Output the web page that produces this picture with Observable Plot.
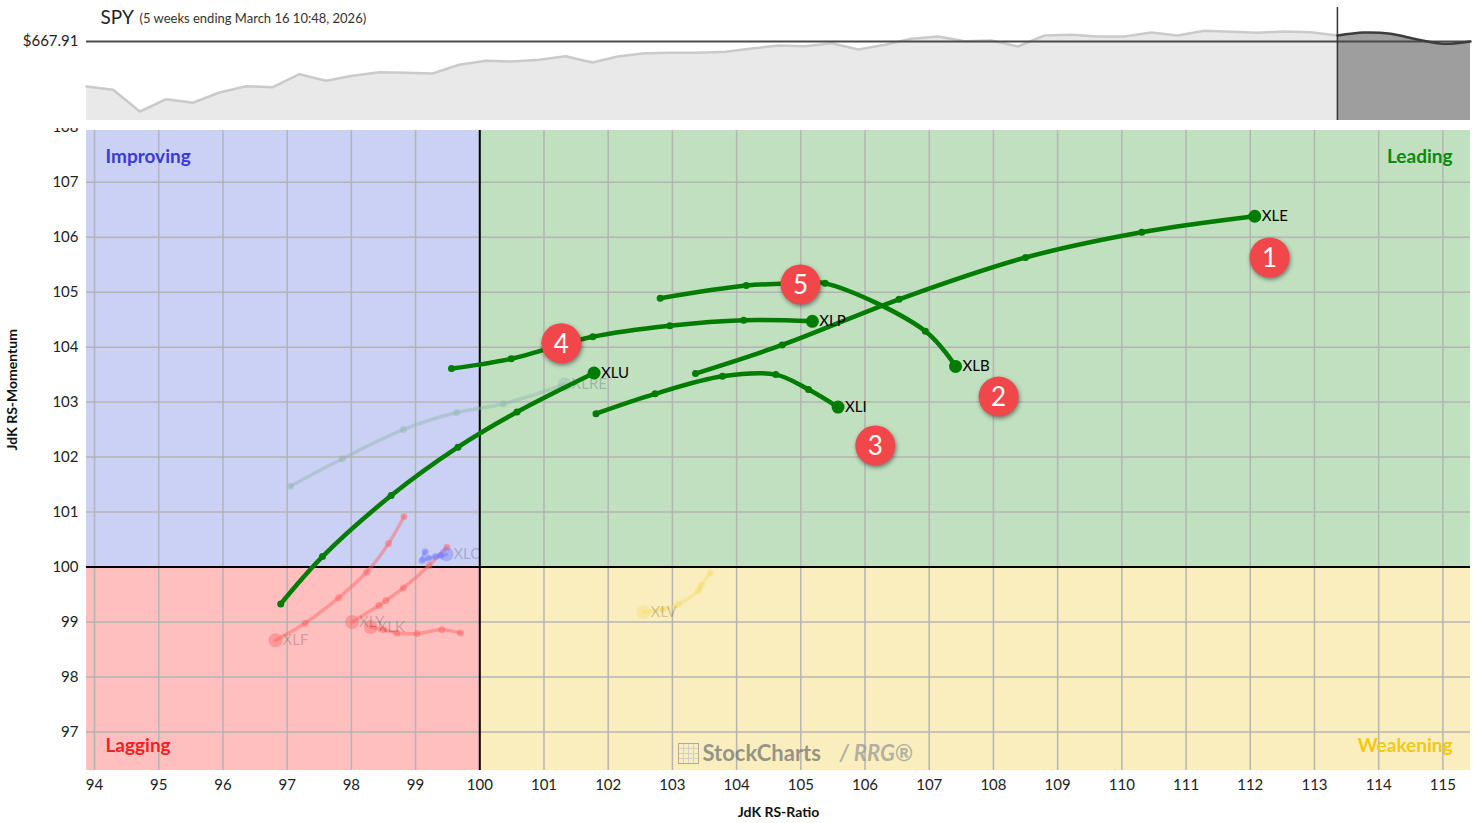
<!DOCTYPE html>
<html><head><meta charset="utf-8">
<script src="https://cdn.jsdelivr.net/npm/d3@7"></script>
<script src="https://cdn.jsdelivr.net/npm/@observablehq/plot@0.6"></script>
<style>
body{margin:0;background:#fff;font-family:Lato,"Open Sans",sans-serif;}
#wrap{position:relative;width:1478px;height:823px;overflow:hidden}
#wrap svg{display:block}
.badge circle{filter:drop-shadow(1px 2px 2px rgba(0,0,0,0.45));}
#icon{position:absolute;left:678px;top:743px;width:21px;height:21px;border:1.5px solid #9a9a9a;box-sizing:border-box;opacity:.8;
 background:repeating-linear-gradient(90deg,transparent 0 4px,#c8c8c8 4px 5px),repeating-linear-gradient(0deg,transparent 0 4px,#c8c8c8 4px 5px);}
</style></head><body><div id="wrap"><div id="icon"></div></div>
<script>
// ---- SPY weekly closes (1 year), last 5 weeks highlighted ----
const spyPrice = [555.4, 547.2, 492.9, 523.7, 514.7, 540.4, 556.2, 553.7, 586.2, 569.7, 582.2, 591.2, 589.7, 587.9, 609.7, 619.7, 617.9, 622.2, 631.2, 615.4, 631.2, 638.7, 639.7, 639.7, 642.2, 650.4, 657.9, 656.2, 663.7, 647.9, 659.7, 674.7, 680.4, 668.7, 670.4, 655.4, 682.9, 684.7, 680.4, 680.4, 690.4, 682.9, 694.7, 692.2, 689.7, 692.9, 691.2, 682.9, 690.4, 687.2, 672.9, 662.2, 667.91];
const tailWeeks = 5;
const spyTitle = "SPY";
const spySubtitle = "(5 weeks ending March 16 10:48, 2026)";

// ---- RRG tails (oldest -> latest) ----
const highlighted = ["XLU", "XLP", "XLI", "XLB", "XLE"];
const xleRatio = [103.36, 104.71, 106.53, 108.50, 110.31, 112.07];
const xleMomentum = [103.52, 104.04, 104.87, 105.63, 106.09, 106.38];
const xlbRatio = [102.81, 104.15, 104.87, 105.38, 106.94, 107.41];
const xlbMomentum = [104.89, 105.12, 105.16, 105.16, 104.29, 103.65];
const xliRatio = [101.81, 102.73, 103.78, 104.61, 105.12, 105.58];
const xliMomentum = [102.79, 103.15, 103.47, 103.50, 103.23, 102.91];
const xlpRatio = [99.56, 100.49, 101.76, 102.96, 104.11, 105.18];
const xlpMomentum = [103.61, 103.79, 104.19, 104.39, 104.49, 104.47];
const xluRatio = [96.90, 97.55, 98.62, 99.66, 100.58, 101.78];
const xluMomentum = [99.33, 100.19, 101.30, 102.18, 102.82, 103.53];

const background = ["XLRE", "XLF", "XLY", "XLK", "XLC", "XLV"];
const xlreRatio = [97.05, 97.86, 98.81, 99.64, 100.37, 101.32];
const xlreMomentum = [101.47, 101.97, 102.50, 102.81, 102.97, 103.32];
const xlfRatio = [98.82, 98.58, 98.24, 97.80, 97.28, 96.82];
const xlfMomentum = [100.92, 100.43, 99.91, 99.44, 98.98, 98.67];
const xlyRatio = [99.49, 99.21, 98.81, 98.54, 98.43, 98.01];
const xlyMomentum = [100.36, 100.03, 99.62, 99.39, 99.30, 99.00];
const xlkRatio = [99.70, 99.41, 99.02, 98.71, 98.50, 98.30];
const xlkMomentum = [98.80, 98.86, 98.79, 98.80, 98.86, 98.91];
const xlcRatio = [99.15, 99.10, 99.20, 99.31, 99.39, 99.48];
const xlcMomentum = [100.28, 100.12, 100.16, 100.19, 100.21, 100.23];
const xlvRatio = [103.59, 103.45, 103.41, 103.09, 102.85, 102.55];
const xlvMomentum = [99.89, 99.67, 99.58, 99.32, 99.23, 99.18];

// ---- annotations (numbered badges) ----
const badgeNumber = ["1", "2", "3", "4", "5"];
const badgeRatio = [112.30, 108.08, 106.16, 101.27, 104.995];
const badgeMomentum = [105.63, 103.10, 102.21, 104.07, 105.14];

// ---- axes ----
const ratioTicks = [94,95,96,97,98,99,100,101,102,103,104,105,106,107,108,109,110,111,112,113,114,115];
const momentumTicks = [97,98,99,100,101,102,103,104,105,106,107,108];
const ratioDomain = [93.875, 115.43];
const momentumDomain = [96.3, 107.94];
const quadrantNames = ["Improving", "Leading", "Lagging", "Weakening"];

// ---------- build ----------
const F = "Lato, 'Open Sans', sans-serif";
const wrap = document.getElementById("wrap");

const spyRows = spyPrice.map((p, i) => ({i, p}));
const splitIdx = spyPrice.length - 1 - tailWeeks;
const hist = spyRows.slice(0, splitIdx + 1);
const recent = spyRows.slice(splitIdx);
const lastPrice = spyPrice[spyPrice.length - 1];
const stripDomain = [470.4, 770.4];

const strip = Plot.plot({
  width: 1478, height: 128, marginTop: 0, marginBottom: 8, marginLeft: 86, marginRight: 8,
  x: {domain: [0, spyPrice.length - 1], axis: null},
  y: {domain: stripDomain, axis: null},
  style: {fontFamily: F, overflow: "visible"},
  marks: [
    Plot.areaY(hist, {x: "i", y1: stripDomain[0], y2: "p", fill: "#e9e9e9"}),
    Plot.areaY(recent, {x: "i", y1: stripDomain[0], y2: "p", fill: "#9e9e9e", curve: "catmull-rom"}),
    Plot.line(hist, {x: "i", y: "p", stroke: "#cacaca", strokeWidth: 2.5}),
    Plot.ruleY([lastPrice], {stroke: "#4a4a4a", strokeWidth: 2}),
    Plot.line(recent, {x: "i", y: "p", stroke: "#3c3c3c", strokeWidth: 2.5, curve: "catmull-rom"}),
    Plot.ruleX([splitIdx], {stroke: "#333", strokeWidth: 1.5, insetTop: 7}),
    Plot.text([lastPrice], {y: d => d, frameAnchor: "left", dx: -8, textAnchor: "end", text: d => "$" + d.toFixed(2), fontSize: 15, fill: "#222"}),
    Plot.text([spyTitle], {frameAnchor: "top-left", dx: 14, dy: 17, lineAnchor: "middle", textAnchor: "start", fontSize: 19, fill: "#222"}),
    Plot.text([spySubtitle], {frameAnchor: "top-left", dx: 53, dy: 18, lineAnchor: "middle", textAnchor: "start", fontSize: 13, fill: "#333"})
  ]
});
wrap.appendChild(strip);

const series = {
  XLE: [xleRatio, xleMomentum], XLB: [xlbRatio, xlbMomentum], XLI: [xliRatio, xliMomentum],
  XLP: [xlpRatio, xlpMomentum], XLU: [xluRatio, xluMomentum],
  XLRE: [xlreRatio, xlreMomentum], XLF: [xlfRatio, xlfMomentum], XLY: [xlyRatio, xlyMomentum],
  XLK: [xlkRatio, xlkMomentum], XLC: [xlcRatio, xlcMomentum], XLV: [xlvRatio, xlvMomentum]
};
const rowsOf = list => list.flatMap(t => series[t][0].map((r, k) => ({ticker: t, ratio: r, momentum: series[t][1][k], step: k, last: k === series[t][0].length - 1})));
const hiRows = rowsOf(highlighted);
const bgRows = rowsOf(background);
const fadedColor = {XLRE: "#8fb8ad", XLF: "#ff5f5f", XLY: "#ff5f5f", XLK: "#ff5f5f", XLC: "#6f78ff", XLV: "#f5dc6a"};

const quads = quadrantNames.map(n => ({
  name: n,
  x1: (n === "Improving" || n === "Lagging") ? ratioDomain[0] : 100,
  x2: (n === "Improving" || n === "Lagging") ? 100 : ratioDomain[1],
  y1: (n === "Improving" || n === "Leading") ? 100 : momentumDomain[0],
  y2: (n === "Improving" || n === "Leading") ? momentumDomain[1] : 100
}));
const quadFill = {Improving: "#cbd0f5", Leading: "#c1e0c0", Lagging: "#ffbfbf", Weakening: "#fbeebe"};
const quadText = {Improving: "#3a3ad6", Leading: "#0a8a0a", Lagging: "#f21f1f", Weakening: "#f2c811"};
const quadAnchor = {Improving: ["top-left", 19, 26, "start"], Leading: ["top-right", -18, 26, "end"], Lagging: ["bottom-left", 19, -25, "start"], Weakening: ["bottom-right", -18, -25, "end"]};

const badges = badgeNumber.map((n, i) => ({n, ratio: badgeRatio[i], momentum: badgeMomentum[i]}));

const main = Plot.plot({
  width: 1478, height: 695, marginTop: 2, marginBottom: 53, marginLeft: 86, marginRight: 8,
  x: {domain: ratioDomain},
  y: {domain: momentumDomain},
  color: {type: "identity"},
  style: {fontFamily: F},
  marks: [
    Plot.rect(quads, {x1: "x1", x2: "x2", y1: "y1", y2: "y2", fill: d => quadFill[d.name]}),
    Plot.gridX(ratioTicks, {stroke: "#b4b4b4", strokeOpacity: 1, strokeWidth: 1.5}),
    Plot.gridY(momentumTicks, {stroke: "#b4b4b4", strokeOpacity: 1, strokeWidth: 1.5}),
    Plot.ruleX([100], {stroke: "#000", strokeWidth: 2}),
    Plot.ruleY([100], {stroke: "#000", strokeWidth: 2}),
    Plot.axisX(ratioTicks, {tickSize: 0, tickPadding: 9, fontSize: 15, fill: "#222", label: null, tickFormat: "d"}),
    Plot.axisY(momentumTicks, {tickSize: 0, tickPadding: 8, fontSize: 15, fill: "#222", label: null, tickFormat: "d"}),
    Plot.text(["JdK RS-Ratio"], {frameAnchor: "bottom", dy: 42, lineAnchor: "middle", fontSize: 14, fontWeight: "bold", fill: "#111"}),
    Plot.text(["JdK RS-Momentum"], {frameAnchor: "left", dx: -74, rotate: -90, fontSize: 14, fontWeight: "bold", fill: "#111"}),
    ...quadrantNames.map(n => Plot.text([n], {frameAnchor: quadAnchor[n][0], dx: quadAnchor[n][1], dy: quadAnchor[n][2], lineAnchor: "middle", textAnchor: quadAnchor[n][3], fontSize: 19, fontWeight: "bold", fill: quadText[n]})),
    Plot.text(["StockCharts"], {frameAnchor: "bottom", dx: -76, dy: -17, lineAnchor: "middle", textAnchor: "start", fontSize: 22, fontWeight: "bold", fill: "#7a7a7a", fillOpacity: 0.8}),
    Plot.text(["/ RRG®"], {frameAnchor: "bottom", dx: 61, dy: -17, lineAnchor: "middle", textAnchor: "start", fontSize: 22, fontWeight: "bold", fontStyle: "italic", fill: "#9a9a9a", fillOpacity: 0.75}),
    // faded tails
    Plot.line(bgRows, {x: "ratio", y: "momentum", z: "ticker", stroke: d => fadedColor[d.ticker], strokeOpacity: 0.45, strokeWidth: 3.5, curve: "catmull-rom"}),
    Plot.dot(bgRows.filter(d => !d.last), {x: "ratio", y: "momentum", r: 3.5, fill: d => fadedColor[d.ticker], fillOpacity: 0.45}),
    Plot.dot(bgRows.filter(d => d.last), {x: "ratio", y: "momentum", r: 7, fill: d => fadedColor[d.ticker], fillOpacity: 0.4}),
    Plot.text(bgRows.filter(d => d.last), {x: "ratio", y: "momentum", text: "ticker", textAnchor: "start", dx: 7, fontSize: 15, fill: "#000", fillOpacity: 0.2}),
    // highlighted tails
    Plot.line(hiRows, {x: "ratio", y: "momentum", z: "ticker", stroke: "#007c00", strokeWidth: 4.5, curve: "catmull-rom"}),
    Plot.dot(hiRows.filter(d => !d.last), {x: "ratio", y: "momentum", r: 3.5, fill: "#007c00"}),
    Plot.dot(hiRows.filter(d => d.last), {x: "ratio", y: "momentum", r: 6.5, fill: "#007c00"}),
    Plot.text(hiRows.filter(d => d.last), {x: "ratio", y: "momentum", text: "ticker", textAnchor: "start", dx: 7, fontSize: 15, fill: "#000"}),
    // badges
    Plot.dot(badges, {x: "ratio", y: "momentum", r: 20, fill: "#f2474a", className: "badge"}),
    Plot.text(badges, {x: "ratio", y: "momentum", text: "n", fontSize: 26, fill: "#fff", dy: 1})
  ]
});
wrap.appendChild(main);
</script>
</body></html>
